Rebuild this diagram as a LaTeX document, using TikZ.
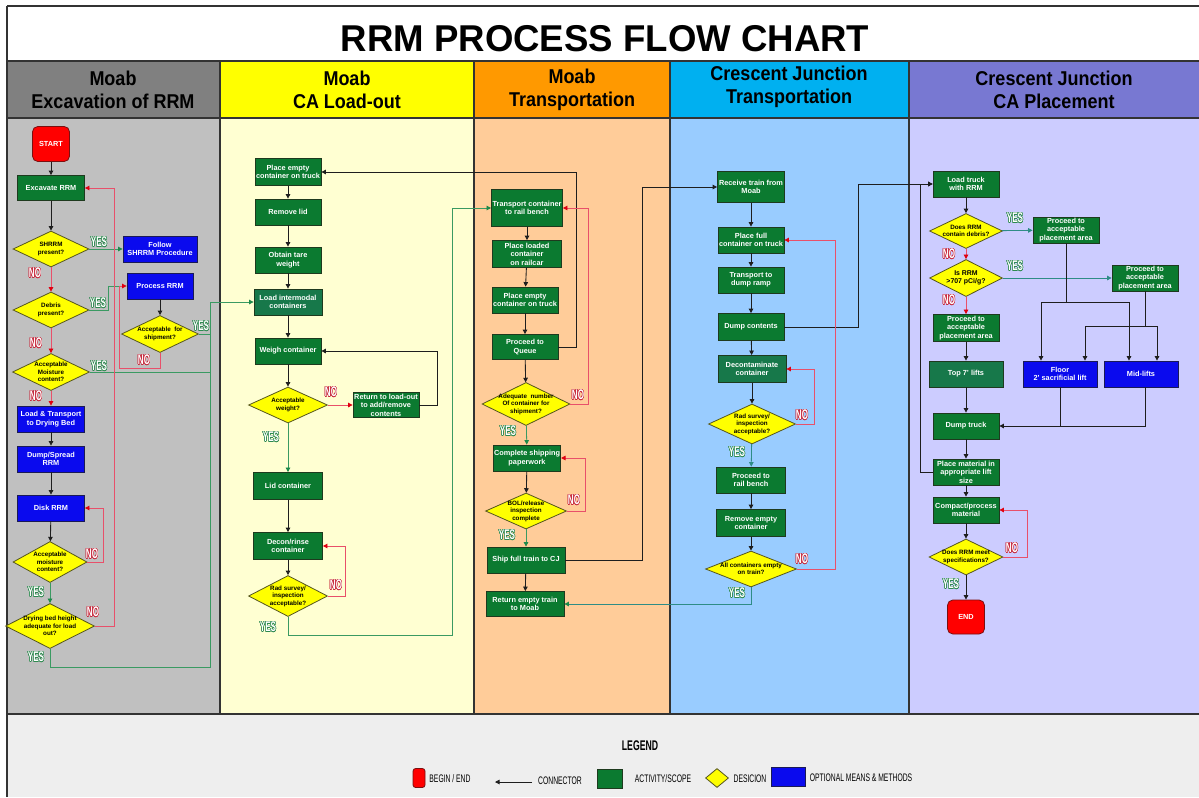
\documentclass[tikz,border=0pt]{standalone}
\usepackage{fontspec}
\setmainfont{Liberation Sans}
\newfontfamily\titlefont[FakeStretch=0.98]{Liberation Sans}
\newfontfamily\headfont[FakeStretch=0.9]{Liberation Sans}
\newfontfamily\legfont[FakeStretch=0.62]{Liberation Sans}
\newfontfamily\ynfont[FakeStretch=0.58]{Liberation Sans}
\usepackage{contour}
\contourlength{0.35pt}
\usetikzlibrary{shapes.geometric,arrows.meta,calc}

\definecolor{actg}{HTML}{0B7A30}
\definecolor{actg2}{HTML}{17784A}
\definecolor{actedge}{HTML}{1E3A1E}
\definecolor{optb}{HTML}{0A0AEE}
\definecolor{optedge}{HTML}{1A1A55}
\definecolor{decy}{HTML}{FFFF00}
\definecolor{decedge}{HTML}{55551E}
\definecolor{termr}{HTML}{FF0000}
\definecolor{termedge}{HTML}{7A1010}
\definecolor{lineblk}{HTML}{1E1E1E}
\definecolor{linered}{HTML}{E8506A}
\definecolor{tipred}{HTML}{E00010}
\definecolor{linegrn}{HTML}{3A9A62}
\definecolor{tipgrn}{HTML}{1E8A4A}
\definecolor{lineteal}{HTML}{2E8C86}
\definecolor{yesg}{HTML}{2E8A50}
\definecolor{nor}{HTML}{C8283C}
\definecolor{hdA}{HTML}{808080}
\definecolor{hdB}{HTML}{FFFF00}
\definecolor{hdC}{HTML}{FF9900}
\definecolor{hdD}{HTML}{00B0F0}
\definecolor{hdE}{HTML}{7878D2}
\definecolor{bdA}{HTML}{C0C0C0}
\definecolor{bdB}{HTML}{FFFFD2}
\definecolor{bdC}{HTML}{FFCC99}
\definecolor{bdD}{HTML}{99CCFF}
\definecolor{bdE}{HTML}{CCCCFF}
\definecolor{legbg}{HTML}{EEEEEE}
\definecolor{gridline}{HTML}{333333}

\begin{document}
\begin{tikzpicture}[x=0.75pt,y=-0.75pt,
  sz/.style 2 args={minimum width=#1*0.75pt,minimum height=#2*0.75pt},
  boxbase/.style={rectangle,inner sep=0.5pt,align=center,text=white,
    font=\bfseries\fontsize{5.5pt}{6.3pt}\selectfont,line width=0.6pt,sz={66}{26}},
  act/.style={boxbase,fill=actg,draw=actedge},
  actb/.style={boxbase,fill=actg2,draw=actedge},
  opt/.style={boxbase,fill=optb,draw=optedge},
  term/.style={boxbase,fill=termr,draw=termedge,rounded corners=4pt,sz={37}{35}},
  dec/.style={diamond,fill=decy,draw=decedge,line width=0.6pt,inner sep=0pt},
  dtext/.style={align=center,text=black,font=\bfseries\fontsize{4.7pt}{5.6pt}\selectfont,inner sep=0pt},
  head/.style={align=center,font=\headfont\bfseries\fontsize{15pt}{17.3pt}\selectfont},
  yes/.style={text=white,font=\ynfont\bfseries\fontsize{10.5pt}{11pt}\selectfont,inner sep=0pt},
  legtxt/.style={font=\legfont\fontsize{8.2pt}{9pt}\selectfont,inner sep=0pt},
  blk/.style={draw=lineblk,line width=0.65pt},
  arr/.style={blk,-{Triangle[length=3.4pt,width=3.4pt]}},
  redl/.style={draw=linered,line width=0.6pt},
  redarr/.style={redl,-{Triangle[length=3.4pt,width=3.4pt,color=tipred]}},
  grn/.style={draw=linegrn,line width=0.6pt},
  grnarr/.style={grn,-{Triangle[length=3.4pt,width=3.4pt,color=tipgrn]}},
  tealarr/.style={draw=lineteal,line width=0.6pt,-{Triangle[length=3.4pt,width=3.4pt,color=lineteal]}},
]
\useasboundingbox (0,0) rectangle (1199,797);
\fill[white] (0,0) rectangle (1199,797);

% ---------- swim lanes ----------
\fill[hdA] (7,61) rectangle (220,118);
\fill[hdB] (220,61) rectangle (474,118);
\fill[hdC] (474,61) rectangle (670,118);
\fill[hdD] (670,61) rectangle (909,118);
\fill[hdE] (909,61) rectangle (1199,118);
\fill[bdA] (7,118) rectangle (220,714);
\fill[bdB] (220,118) rectangle (474,714);
\fill[bdC] (474,118) rectangle (670,714);
\fill[bdD] (670,118) rectangle (909,714);
\fill[bdE] (909,118) rectangle (1199,714);
\fill[legbg] (7,714) rectangle (1199,797);
\draw[gridline,line width=0.8pt] (7,61) -- (1199,61) (7,118) -- (1199,118) (7,714) -- (1199,714);
\foreach \xx in {220,474,670,909} \draw[gridline,line width=0.8pt] (\xx,61) -- (\xx,714);
\draw[gridline,line width=0.9pt] (7,6) -- (1199,6) (7,6) -- (7,797);

% ---------- title and lane headings ----------
\node[font=\titlefont\bfseries\fontsize{28pt}{30pt}\selectfont] (title) at (605,38.5) {RRM PROCESS FLOW CHART};
\node[head] (h1) at (113,90) {Moab\\Excavation of RRM};
\node[head] (h2) at (347,90) {Moab\\CA Load-out};
\node[head] (h3) at (572,90) {Moab\\Transportation};
\node[head] (h4) at (789,87) {Crescent Junction\\Transportation};
\node[head] (h5) at (1054,90) {Crescent Junction\\CA Placement};

% ---------- lane 1: excavation ----------
\node[term] (start) at (51,144) {START};
\node[act,sz={67}{25}] (exc) at (51,188) {Excavate RRM};
\node[dec,sz={76}{36}] (d1) at (51,249) {};
\node[dtext] at (d1.center) {SHRRM\\present?};
\node[opt,sz={74}{26}] (follow) at (160,249) {Follow\\SHRRM Procedure};
\node[dec,sz={76}{36}] (d2) at (51,310) {};
\node[dtext] at (d2.center) {Debris\\present?};
\node[opt] (proc) at (160,286) {Process RRM};
\node[dec,sz={77}{37}] (ship) at (160,334) {};
\node[dtext] at (ship.center) {Acceptable\ \ for\\shipment?};
\node[dec,sz={77}{37}] (d3) at (51,372) {};
\node[dtext] at (d3.center) {Acceptable\\Moisture\\content?};
\node[opt,sz={67}{26}] (ltd) at (51,419) {Load \& Transport\\to Drying Bed};
\node[opt,sz={67}{26}] (dsp) at (51,459) {Dump/Spread\\RRM};
\node[opt,sz={67}{26}] (disk) at (51,508) {Disk RRM};
\node[dec,sz={74}{41}] (d4) at (50,562) {};
\node[dtext] at (d4.center) {Acceptable\\moisture\\content?};
\node[dec,sz={89}{45}] (d5) at (50,626) {};
\node[dtext] at (d5.center) {Drying bed height\\adequate for load\\out?};

% ---------- lane 2: load-out ----------
\node[act,sz={66}{27}] (pe) at (288,172) {Place empty\\container on truck};
\node[act] (rl) at (288,212) {Remove lid};
\node[act] (otw) at (288,260) {Obtain tare\\weight};
\node[actb,sz={68}{26}] (lic) at (288,302) {Load intermodal\\containers};
\node[act] (wc) at (288,351) {Weigh container};
\node[dec,sz={79}{36}] (aw) at (288,405) {};
\node[dtext] at (aw.center) {Acceptable\\weight?};
\node[act,sz={66}{25}] (ret) at (386,405) {Return to load-out\\to add/remove\\contents};
\node[act,sz={69}{27}] (lid) at (288,486) {Lid container};
\node[act,sz={69}{27}] (dec) at (288,546) {Decon/rinse\\container};
\node[dec,sz={79}{41}] (rs) at (288,596) {};
\node[dtext] at (rs.center) {Rad survey/\\inspection\\acceptable?};

% ---------- lane 3: Moab transportation ----------
\node[act,sz={71}{37}] (tc) at (527,208) {Transport container\\to rail bench};
\node[act,sz={69}{27}] (plc) at (527,254) {Place loaded\\container\\on railcar};
\node[act] (pec) at (525,300) {Place empty\\container on truck};
\node[act,sz={66}{25}] (pq) at (525,347) {Proceed to\\Queue};
\node[dec,sz={88}{43}] (an) at (526,404) {};
\node[dtext] at (an.center) {Adequate\ \ number\\Of container for\\shipment?};
\node[act,sz={67}{26}] (csp) at (527,458) {Complete shipping\\paperwork};
\node[dec,sz={81}{36}] (bol) at (526,511) {};
\node[dtext] at (bol.center) {BOL/release\\inspection\\complete};
\node[act,sz={78}{26}] (sft) at (526,560) {Ship full train to CJ};
\node[act,sz={78}{25}] (ret2) at (525,604) {Return empty train\\to Moab};

% ---------- lane 4: Crescent Junction transportation ----------
\node[act,sz={67}{31}] (rtm) at (751,187) {Receive train from\\Moab};
\node[act] (pfc) at (751,240) {Place full\\container on truck};
\node[act] (tdr) at (751,280) {Transport to\\dump ramp};
\node[act,sz={66}{27}] (dc) at (751,327) {Dump contents};
\node[actb,sz={68}{27}] (dcc) at (752,369) {Decontaminate\\container};
\node[dec,sz={87}{40}] (rs2) at (752,424) {};
\node[dtext] at (rs2.center) {Rad survey/\\inspection\\acceptable?};
\node[act,sz={69}{26}] (prb) at (751,480) {Proceed to\\rail bench};
\node[act,sz={69}{27}] (rem) at (751,523) {Remove empty\\container};
\node[dec,sz={91}{36}] (ac) at (751,569) {};
\node[dtext] at (ac.center) {All containers empty\\on train?};

% ---------- lane 5: CA placement ----------
\node[act] (ltr) at (966,184) {Load truck\\with RRM};
\node[dec,sz={73}{35}] (rd) at (966,231) {};
\node[dtext] at (rd.center) {Does RRM\\contain debris?};
\node[act] (pa1) at (1066,230) {Proceed to\\acceptable\\placement area};
\node[dec,sz={73}{37}] (r707) at (966,278) {};
\node[dtext,font=\bfseries\fontsize{5.2pt}{6.2pt}\selectfont] at (r707.center) {Is RRM\\>707 pCi/g?};
\node[act] (pa2) at (1145,278) {Proceed to\\acceptable\\placement area};
\node[act,sz={66}{27}] (pa3) at (966,328) {Proceed to\\acceptable\\placement area};
\node[actb,sz={74}{26}] (top7) at (966,374) {Top 7' lifts};
\node[opt,sz={74}{26}] (floor) at (1060,374) {Floor\\2' sacrificial lift};
\node[opt,sz={74}{26}] (mid) at (1141,374) {Mid-lifts};
\node[act] (dt) at (966,426) {Dump truck};
\node[act] (pm) at (966,472) {Place material in\\appropriate lift\\size};
\node[act] (cp) at (966,510) {Compact/process\\material};
\node[dec,sz={74}{36}] (spec) at (966,557) {};
\node[dtext] at (spec.center) {Does RRM meet\\specifications?};
\node[term,sz={37}{34}] (end) at (966,617) {END};

% ---------- connectors, lane 1 ----------
\coordinate (jproc) at (119,286);
\coordinate (gtop) at (210,302);
\draw[arr] (start) -- (exc);
\draw[arr] (exc) -- (d1);
\draw[grnarr] (d1) -- (follow);
\draw[redarr] (d1) -- (d2);
\draw[grn] (d2.east) -- ++(19,0) |- (jproc);
\draw[redarr] (ship.south) -- ++(0,15) -| (jproc) -- (proc.west);
\draw[arr] (proc) -- (ship);
\draw[redarr] (d2) -- (d3);
\draw[grnarr] (d3.east) -| (gtop) -- (lic.west);
\draw[grn] (ship.east) -- (ship.east -| gtop);
\draw[redarr] (d3) -- (ltd);
\draw[arr] (ltd) -- (dsp);
\draw[arr] (dsp) -- (disk);
\draw[arr] (disk) -- (d4);
\draw[redarr] (d4.east) -- ++(16,0) |- (disk.east);
\draw[grnarr] (d4) -- (d5);
\draw[redarr] (d5.east) -- ++(19,0) |- (exc.east);
\draw[grn] (d5.south) -- ++(0,18) -| (gtop);

% ---------- connectors, lane 2 ----------
\draw[arr] (pe) -- (rl);
\draw[arr] (rl) -- (otw);
\draw[arr] (otw) -- (lic);
\draw[arr] (lic) -- (wc);
\draw[arr] (wc) -- (aw);
\draw[redarr] (aw) -- (ret);
\draw[arr] (ret.east) -- ++(18,0) |- (wc.east);
\draw[grnarr] (aw) -- (lid);
\draw[arr] (lid) -- (dec);
\draw[arr] (dec) -- (rs);
\draw[redarr] (rs.east) -- ++(17,0) |- (dec.east);
\draw[grnarr] (rs.south) -- ++(0,18) -| (452,208) -- (tc.west);

% ---------- connectors, lane 3 ----------
\draw[arr] (tc) -- (plc);
\draw[arr] (plc) -- (pec);
\draw[arr] (pec) -- (pq);
\draw[arr] (pq.east) -- ++(18,0) |- (pe.east);
\draw[arr] (pq) -- (an);
\draw[redarr] (an.east) -- ++(18,0) |- (tc.east);
\draw[grnarr] (an) -- (csp);
\draw[arr] (csp) -- (bol);
\draw[redarr] (bol.east) -- ++(18,0) |- (csp.east);
\draw[grnarr] (bol) -- (sft);
\draw[arr] (sft) -- (ret2);
\draw[arr] (sft.east) -- ++(77,0) |- (rtm.west);

% ---------- connectors, lane 4 ----------
\draw[arr] (rtm) -- (pfc);
\draw[arr] (pfc) -- (tdr);
\draw[arr] (tdr) -- (dc);
\draw[arr] (dc) -- (dcc);
\draw[arr] (dc.east) -- ++(74,0) |- (ltr.west);
\draw[arr] (dcc) -- (rs2);
\draw[redarr] (rs2.east) -- ++(18,0) |- (dcc.east);
\draw[tealarr] (rs2) -- (prb);
\draw[arr] (prb) -- (rem);
\draw[arr] (rem) -- (ac);
\draw[redarr] (ac.east) -- ++(38,0) |- (pfc.east);
\draw[draw=lineteal,line width=0.6pt,-{Triangle[length=3.4pt,width=3.4pt,color=tipgrn]}] (ac.south) |- (ret2.east);

% ---------- connectors, lane 5 ----------
\coordinate (h1l) at (1041,302);
\coordinate (h1r) at (1129,302);
\coordinate (h2l) at (1085,326);
\coordinate (h2r) at (1157,326);
\draw[arr] (ltr) -- (rd);
\draw[tealarr] (rd) -- (pa1);
\draw[redarr] (rd) -- (r707);
\draw[tealarr] (r707) -- (pa2);
\draw[redarr] (r707) -- (pa3);
\draw[arr] (pa3) -- (top7);
\draw[arr] (top7) -- (dt);
\draw[blk] (pa1.south) -- (pa1.south |- h1l);
\draw[blk] (h1l) -- (h1r);
\draw[arr] (h1l) -- (h1l |- floor.north);
\draw[arr] (h1r) -- (h1r |- mid.north);
\draw[blk] (pa2.south) -- (pa2.south |- h2l);
\draw[blk] (h2l) -- (h2r);
\draw[arr] (h2l) -- (h2l |- floor.north);
\draw[arr] (h2r) -- (h2r |- mid.north);
\draw[arr] ([xshift=3pt]mid.south) |- (dt.east);
\draw[blk] (floor.south) -- (floor.south |- dt.east);
\draw[arr] (dt) -- (pm);
\draw[arr] (pm) -- (cp);
\draw[arr] (pm.west) -- ++(-12,0) |- (ltr.west);
\draw[arr] (cp) -- (spec);
\draw[redarr] (spec.east) -- ++(24,0) |- (cp.east);
\draw[arr] (spec) -- (end);

% ---------- YES / NO tags ----------
\node[yes] (y1) at (99,242) {\contour{yesg}{YES}};
\node[yes] (n1) at (35,273) {\contour{nor}{NO}};
\node[yes] (y2) at (98,303) {\contour{yesg}{YES}};
\node[yes] (y3) at (201,326) {\contour{yesg}{YES}};
\node[yes] (n2) at (144,360) {\contour{nor}{NO}};
\node[yes] (y4) at (99,366) {\contour{yesg}{YES}};
\node[yes] (n3) at (36,343) {\contour{nor}{NO}};
\node[yes] (n4) at (36,396) {\contour{nor}{NO}};
\node[yes] (n5) at (92,554) {\contour{nor}{NO}};
\node[yes] (y5) at (36,592) {\contour{yesg}{YES}};
\node[yes] (n6) at (93,612) {\contour{nor}{NO}};
\node[yes] (y6) at (36,657) {\contour{yesg}{YES}};
\node[yes] (n7) at (331,392) {\contour{nor}{NO}};
\node[yes] (y7) at (271,437) {\contour{yesg}{YES}};
\node[yes] (n8) at (336,585) {\contour{nor}{NO}};
\node[yes] (y8) at (268,627) {\contour{yesg}{YES}};
\node[yes] (n9) at (578,395) {\contour{nor}{NO}};
\node[yes] (y9) at (508,431) {\contour{yesg}{YES}};
\node[yes] (n10) at (574,500) {\contour{nor}{NO}};
\node[yes] (y10) at (507,535) {\contour{yesg}{YES}};
\node[yes] (n11) at (802,415) {\contour{nor}{NO}};
\node[yes] (y11) at (737,452) {\contour{yesg}{YES}};
\node[yes] (n12) at (802,559) {\contour{nor}{NO}};
\node[yes] (y12) at (737,593) {\contour{yesg}{YES}};
\node[yes] (y13) at (1015,218) {\contour{yesg}{YES}};
\node[yes] (n13) at (949,254) {\contour{nor}{NO}};
\node[yes] (y14) at (1015,266) {\contour{yesg}{YES}};
\node[yes] (n14) at (949,300) {\contour{nor}{NO}};
\node[yes] (n15) at (1012,548) {\contour{nor}{NO}};
\node[yes] (y15) at (951,584) {\contour{yesg}{YES}};

% ---------- legend ----------
\node[font=\legfont\bfseries\fontsize{10.5pt}{11pt}\selectfont] (legend) at (640,746) {LEGEND};
\node[term,sz={12}{19},rounded corners=2pt] (lgterm) at (419,778) {};
\node[legtxt] (lgterm-t) at (450,779) {BEGIN / END};
\coordinate (lgA) at (532,782);
\coordinate (lgB) at (495,782);
\draw[arr] (lgA) -- (lgB);
\node[legtxt] (lgconn-t) at (560,781) {CONNECTOR};
\node[act,sz={25}{19}] (lgact) at (610,779) {};
\node[legtxt] (lgact-t) at (663,779) {ACTIVITY/SCOPE};
\node[dec,sz={23}{19}] (lgdec) at (717,778) {};
\node[legtxt] (lgdec-t) at (750,779) {DESICION};
\node[opt,sz={34}{19}] (lgopt) at (788,777) {};
\node[legtxt] (lgopt-t) at (861,778) {OPTIONAL MEANS \& METHODS};
\end{tikzpicture}
\end{document}
